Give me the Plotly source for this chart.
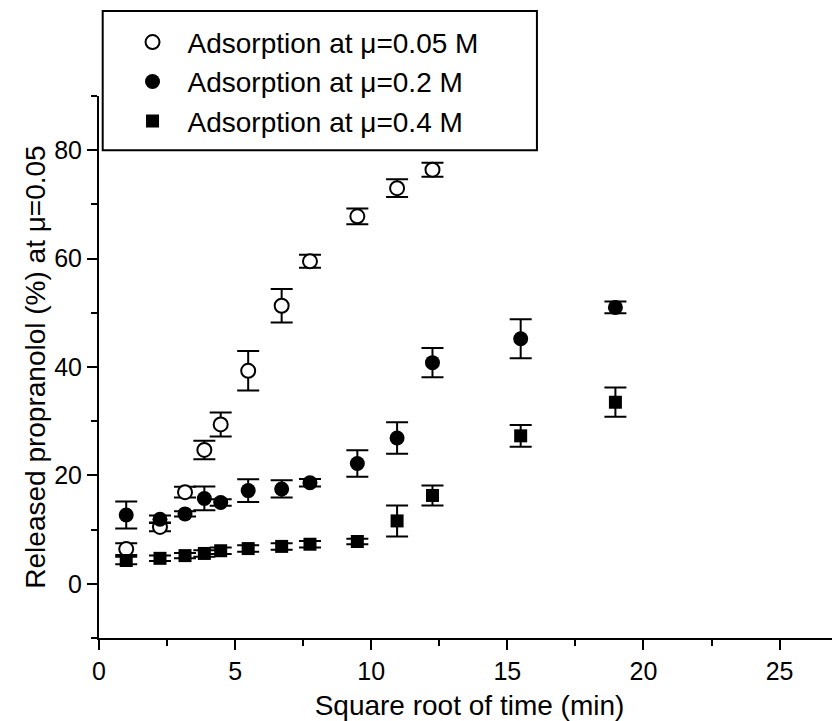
import plotly.graph_objects as go

# ---- data ----
x_all = [1.0, 2.24, 3.16, 3.87, 4.47, 5.48, 6.71, 7.75, 9.49, 10.95, 12.25, 15.49, 18.97]

names = ["Adsorption at μ=0.05 M", "Adsorption at μ=0.2 M", "Adsorption at μ=0.4 M"]

x_005 = x_all[:11]
y_005 = [6.4, 10.5, 16.9, 24.7, 29.4, 39.3, 51.3, 59.5, 67.8, 73.0, 76.4]
e_005 = [1.1, 0.8, 1.0, 1.7, 2.2, 3.65, 3.1, 1.2, 1.45, 1.65, 1.3]

x_02 = x_all
y_02 = [12.7, 11.9, 12.9, 15.75, 15.0, 17.2, 17.5, 18.65, 22.2, 26.9, 40.8, 45.2, 51.0]
e_02 = [2.5, 0.7, 0.5, 2.2, 0.6, 2.1, 1.6, 0.7, 2.45, 2.9, 2.7, 3.6, 1.1]

x_04 = x_all
y_04 = [4.3, 4.7, 5.2, 5.6, 6.1, 6.5, 6.9, 7.3, 7.8, 11.6, 16.3, 27.3, 33.5]
e_04 = [0.7, 0.5, 0.5, 0.6, 0.6, 0.6, 0.6, 0.6, 0.5, 2.85, 1.85, 2.0, 2.7]

x_ticks = [0, 5, 10, 15, 20, 25]
y_ticks = [0, 20, 40, 60, 80]

x_title = "Square root of time (min)"
y_title = "Released propranolol (%) at μ=0.05"

FONT = "Arial, Liberation Sans, sans-serif"

fig = go.Figure()

def err(vals):
    return dict(type="data", array=vals, visible=True, color="black",
                thickness=2, width=11)

fig.add_trace(go.Scatter(
    x=x_005, y=y_005, mode="markers", name=names[0], error_y=err(e_005),
    marker=dict(symbol="circle", size=14, color="white",
                line=dict(color="black", width=2))))
fig.add_trace(go.Scatter(
    x=x_02, y=y_02, mode="markers", name=names[1], error_y=err(e_02),
    marker=dict(symbol="circle", size=15, color="black",
                line=dict(color="black", width=0))))
fig.add_trace(go.Scatter(
    x=x_04, y=y_04, mode="markers", name=names[2], error_y=err(e_04),
    marker=dict(symbol="square", size=13, color="black",
                line=dict(color="black", width=0))))

axis_common = dict(showgrid=False, zeroline=False, showline=True,
                   linecolor="black", linewidth=2, ticks="outside",
                   ticklen=10, tickwidth=2, tickcolor="black",
                   tickfont=dict(family=FONT, size=25, color="black"),
                   automargin=False, mirror=False)

fig.update_xaxes(range=[0, 27.22], tickmode="array", tickvals=x_ticks,
                 ticktext=[str(v) for v in x_ticks],
                 minor=dict(dtick=2.5, tick0=0, ticks="outside", ticklen=6,
                            tickwidth=2, tickcolor="black", showgrid=False),
                 title=dict(text=x_title, standoff=11,
                            font=dict(family=FONT, size=28, color="black")),
                 **axis_common)
fig.update_yaxes(range=[-10, 90], tickmode="array", tickvals=y_ticks,
                 ticktext=[str(v) for v in y_ticks],
                 minor=dict(dtick=10, tick0=-10, ticks="outside", ticklen=6,
                            tickwidth=2, tickcolor="black", showgrid=False),
                 title=dict(text=y_title, standoff=0,
                            font=dict(family=FONT, size=28, color="black")),
                 **axis_common)

# legend frame
fig.add_shape(type="rect", xref="paper", yref="paper",
              x0=0.005, x1=0.591, y0=0.900, y1=1.157,
              line=dict(color="black", width=2), fillcolor="white", layer="below")

# page body has an 8px margin: shrink the figure so it ends at the window edges
fig.update_layout(
    width=832, height=713,
    margin=dict(l=91, r=0, t=88, b=83),
    paper_bgcolor="white", plot_bgcolor="white",
    showlegend=True,
    legend=dict(x=0.025, y=1.145, xanchor="left", yanchor="top",
                bgcolor="rgba(0,0,0,0)", borderwidth=0, itemwidth=60,
                font=dict(family=FONT, size=28, color="black"),
                tracegroupgap=0),
)

fig.write_html("out.html")
